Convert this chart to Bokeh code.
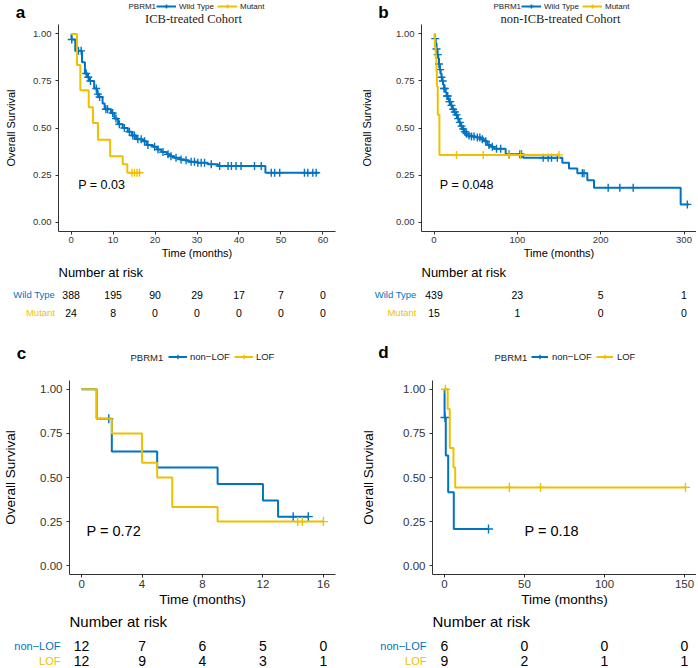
import numpy as np
from bokeh.plotting import figure
from bokeh.layouts import column, row
from bokeh.models import Range1d, Legend, LegendItem, FixedTicker, NumeralTickFormatter
from bokeh.core.properties import value
from bokeh.embed import file_html
from bokeh.resources import INLINE

BLUE = "#0073C2"
YELLOW = "#EFC000"
SANS = "Liberation Sans"
SERIF = "Liberation Serif"

# ---------------- Panel a: ICB-treated cohort ----------------
a_groups = ["Wild Type", "Mutant"]
a_wt_time = [0, 0.1, 1.0, 2.6, 3.3, 4.0, 4.5, 5.5, 6.2, 6.6, 7.5, 8.0, 9.5, 10.3, 11.2, 12.3, 13.5, 14.5,
             15.5, 17.0, 18.0, 19.5, 20.5, 21.5, 22.8, 23.5, 24.5, 26.0, 27.0, 28.0, 30.0, 32.5, 35.0, 46.3, 59.0]
a_wt_surv = [1.0, 0.97, 0.91, 0.85, 0.79, 0.77, 0.75, 0.71, 0.68, 0.665, 0.63, 0.60, 0.58, 0.55, 0.52, 0.50,
             0.48, 0.46, 0.44, 0.43, 0.41, 0.40, 0.386, 0.372, 0.36, 0.35, 0.342, 0.333, 0.328, 0.32, 0.316,
             0.307, 0.298, 0.262, 0.262]
a_wt_censor = [0.16, 1.75, 2.4, 3.6, 4.1, 4.6, 6.0, 6.4, 6.8, 8.3, 8.7, 9.9, 10.7, 11.5, 12.7, 13.9, 14.7,
               15.1, 15.9, 16.7, 17.5, 18.3, 19.9, 20.7, 21.9, 23.1, 23.8, 25.0, 26.2, 27.4, 28.6, 29.4,
               30.2, 31.0, 31.8, 33.4, 35.4, 37.4, 38.2, 39.3, 40.5, 43.7, 45.3, 47.7, 48.5, 49.7, 55.6,
               56.4, 57.6, 58.4]
a_mut_time = [0, 1.4, 2.2, 4.2, 5.2, 6.4, 9.3, 12.3, 13.4, 16.7]
a_mut_surv = [1.0, 0.835, 0.70, 0.61, 0.527, 0.438, 0.35, 0.307, 0.262, 0.262]
a_mut_censor = [14.5, 15.1, 15.7, 16.3]
a_xticks = [0, 10, 20, 30, 40, 50, 60]
a_risk_wt = [388, 195, 90, 29, 17, 7, 0]
a_risk_mut = [24, 8, 0, 0, 0, 0, 0]

# ---------------- Panel b: non-ICB-treated cohort ----------------
b_groups = ["Wild Type", "Mutant"]
b_wt_time = [0, 1, 2, 3, 4, 5, 6, 7, 8, 9, 10, 11, 12, 14, 15, 17, 18, 20, 22, 24, 26, 28, 30, 32, 34, 36,
             38, 40, 44, 50, 56, 60, 64, 68, 72, 86, 107, 154, 162, 172, 184, 192, 296, 306]
b_wt_surv = [1.0, 0.975, 0.95, 0.92, 0.89, 0.87, 0.84, 0.81, 0.79, 0.77, 0.75, 0.73, 0.71, 0.69, 0.67,
             0.655, 0.64, 0.62, 0.60, 0.585, 0.57, 0.55, 0.53, 0.51, 0.495, 0.48, 0.47, 0.46, 0.455, 0.45,
             0.44, 0.43, 0.41, 0.40, 0.39, 0.36, 0.342, 0.315, 0.285, 0.26, 0.222, 0.183, 0.094, 0.094]
b_wt_censor = [1.5, 3, 4.5, 6, 7.5, 9, 10.5, 12, 13, 15.5, 16.5, 18.5, 19.5, 21, 23, 25, 27, 29, 31, 33, 35,
               37, 39, 42, 45, 48, 52, 55, 58, 62, 66, 70, 75, 80, 90, 103, 105, 131, 137, 141, 148, 178,
               180, 209, 223, 239, 304]
b_mut_time = [0, 1, 2, 3, 3.5, 4.5, 6.5, 150]
b_mut_surv = [1.0, 0.93, 0.87, 0.80, 0.72, 0.57, 0.357, 0.357]
b_mut_censor = [27, 59, 90, 104, 150]
b_xticks = [0, 100, 200, 300]
b_risk_wt = [439, 23, 5, 1]
b_risk_mut = [15, 1, 0, 0]

# ---------------- Panel c ----------------
c_groups = ["non\u2212LOF", "LOF"]
c_nl_time = [0, 1, 2, 5, 9, 12, 13, 15]
c_nl_surv = [1.0, 0.833, 0.648, 0.556, 0.463, 0.37, 0.278, 0.278]
c_nl_censor = [1.8, 14, 15]
c_lof_time = [0, 1, 2, 4, 5, 6, 9, 16]
c_lof_surv = [1.0, 0.833, 0.75, 0.583, 0.50, 0.333, 0.25, 0.25]
c_lof_censor = [14.3, 14.6, 16]
c_xticks = [0, 4, 8, 12, 16]
c_risk_nl = [12, 7, 6, 5, 0]
c_risk_lof = [12, 9, 4, 3, 1]

# ---------------- Panel d ----------------
d_groups = ["non\u2212LOF", "LOF"]
d_nl_time = [0, 0.05, 0.8, 2.3, 5.8, 27.5]
d_nl_surv = [1.0, 0.84, 0.625, 0.417, 0.208, 0.208]
d_nl_censor = [0.3, 27.5]
d_lof_time = [0, 2, 3.3, 5.6, 6.7, 151]
d_lof_surv = [1.0, 0.889, 0.667, 0.556, 0.444, 0.444]
d_lof_censor = [0.6, 40.5, 60, 150.6]
d_xticks = [0, 50, 100, 150]
d_risk_nl = [6, 0, 0, 0]
d_risk_lof = [9, 2, 1, 1]

LEGEND_TITLE = "PBRM1"


def surv_at(times, surv, t):
    idx = np.searchsorted(np.asarray(times), np.asarray(t), side="right") - 1
    return list(np.asarray(surv)[idx])


def no_align(fig):
    try:
        fig.frame_align = False
    except Exception:
        pass


def bare(width, height, xr):
    fig = figure(width=width, height=height, x_range=Range1d(*xr), y_range=Range1d(height, 0),
                 x_axis_location=None, y_axis_location=None, min_border=0,
                 min_border_left=0, min_border_right=0, min_border_top=0, min_border_bottom=0,
                 output_backend="svg", toolbar_location=None)
    fig.outline_line_color = None
    fig.border_fill_color = "white"
    fig.grid.visible = False
    no_align(fig)
    return fig


def build(letter, title, groups, curves, xr, xticks, ptext, pxy, risk1, risk2, g, f):
    x0, x1 = xr
    w = g["w"]
    sx = (x1 - x0) / (w - g["left"] - g["right"])
    full = (x0 - g["left"] * sx, x1 + g["right"] * sx)

    def fx(px):  # figure pixel -> data x
        return full[0] + px * sx

    # ---- header (letter, legend, title)
    hh = g["hh"]
    hdr = bare(w, hh, full)
    hdr.text(x=[fx(g["letter"][0])], y=[g["letter"][1]], text=[letter], text_font=value(SANS),
             text_font_style="bold", text_font_size=f["letter"], text_align="center",
             text_baseline="middle", text_color="black")
    if title:
        hdr.text(x=[fx(g["title"][0])], y=[g["title"][1]], text=[title], text_font=value(SERIF),
                 text_font_size=f["title"], text_align="center", text_baseline="middle",
                 text_color="#222222")
    hdr.text(x=[fx(g["ltitle"][0])], y=[g["ltitle"][1]], text=[LEGEND_TITLE], text_font=value(SANS),
             text_font_size=f["leg"], text_align="left", text_baseline="middle", text_color="#222222")
    items = []
    for (t, s, c, col), name in zip(curves, groups):
        ln = hdr.line(x=np.array([np.nan]), y=np.array([np.nan]), line_color=col, line_width=2)
        sc = hdr.scatter(x=np.array([np.nan]), y=np.array([np.nan]), marker="cross", size=8,
                         line_color=col, line_width=1.4)
        items.append(LegendItem(label=name, renderers=[ln, sc]))
    leg = Legend(items=items, orientation="horizontal", location=g["leg"],
                 label_text_font=SANS, label_text_font_size=f["leg"], label_standoff=g["ls"],
                 label_text_color="#222222",
                 glyph_width=g["gw"], glyph_height=g["gh"], label_height=g["gh"], label_width=10,
                 spacing=g["sp"], padding=0, margin=0, border_line_color=None, background_fill_alpha=0)
    hdr.add_layout(leg)

    # ---- KM plot
    h = g["fh"] + g["bot"]
    p = figure(width=w, height=h, x_range=Range1d(x0, x1), y_range=Range1d(-0.05, 1.05),
               output_backend="svg", toolbar_location=None,
               min_border_left=g["left"], min_border_right=g["right"],
               min_border_top=0, min_border_bottom=g["bot"])
    no_align(p)
    p.outline_line_color = None
    p.grid.visible = False
    p.border_fill_color = "white"
    for ax in (p.xaxis[0], p.yaxis[0]):
        ax.axis_line_color = "#333333"
        ax.axis_line_width = 1
        ax.major_tick_line_color = "#333333"
        ax.major_tick_in = 0
        ax.major_tick_out = 3
        ax.minor_tick_line_color = None
        ax.major_label_text_font = SANS
        ax.major_label_text_font_size = f["tick"]
        ax.major_label_text_color = "#333333"
        ax.axis_label_text_font = SANS
        ax.axis_label_text_font_style = "normal"
        ax.axis_label_text_font_size = f["axis"]
        ax.axis_label_text_color = "black"
    p.xaxis.ticker = FixedTicker(ticks=xticks)
    p.yaxis.ticker = FixedTicker(ticks=[0, 0.25, 0.5, 0.75, 1.0])
    p.yaxis.formatter = NumeralTickFormatter(format="0.00")
    p.xaxis.axis_label = "Time (months)"
    p.yaxis.axis_label = "Overall Survival"
    p.xaxis.major_label_standoff = 2
    p.xaxis.axis_label_standoff = 1
    p.yaxis.major_label_standoff = 4
    p.yaxis.axis_label_standoff = g["ylab_so"]

    for t, s, c, col in curves:
        p.step(t, s, mode="after", line_color=col, line_width=2)
        p.scatter(c, surv_at(t, s, c), marker="cross", size=g["cs"], line_color=col, line_width=1.4)

    p.text(x=[pxy[0]], y=[pxy[1]], text=[ptext], text_font=value(SANS), text_font_size=f["p"],
           text_align="left", text_baseline="middle", text_color="black")

    # ---- risk table
    rh = g["rh"]
    rf = bare(w, rh, full)
    rf.text(x=[x0], y=[g["nar_y"]], text=["Number at risk"], text_font=value(SANS),
            text_font_size=f["nar"], text_align="left", text_baseline="middle", text_color="black")
    rf.text(x=[x0 - g["gap"] * sx] * 2, y=[g["r1_y"], g["r2_y"]], text=groups,
            text_color=[BLUE, YELLOW], text_font=value(SANS), text_font_size=f["rowlab"],
            text_align="right", text_baseline="middle")
    for counts, yy in ((risk1, g["r1_y"]), (risk2, g["r2_y"])):
        rf.text(x=xticks, y=[yy] * len(xticks), text=[str(v) for v in counts], text_font=value(SANS),
                text_font_size=f["num"], text_align="center", text_baseline="middle", text_color="black")
    return column(hdr, p, rf, spacing=0)


f_top = dict(tick="9.5px", axis="11px", leg="8px", p="12.5px", letter="17px", title="12.5px",
             nar="13px", rowlab="9.5px", num="10.5px")
f_bot = dict(tick="11.5px", axis="13.5px", leg="9.5px", p="14.5px", letter="17px", title="12.5px",
             nar="15px", rowlab="11px", num="14px")

g_a = dict(w=345, left=58, right=10, hh=24, fh=207, bot=31, ylab_so=13, cs=8,
           leg=(156, 13), gw=20, gh=10, ls=3, sp=3, ltitle=(128, 6),
           letter=(20, 11.5), title=(193, 18), rh=68, nar_y=10, r1_y=32, r2_y=50, gap=3.5)
g_b = dict(w=351, left=76, right=0, hh=24, fh=207, bot=31, ylab_so=20, cs=8,
           leg=(176, 13), gw=20, gh=10, ls=3, sp=3, ltitle=(148, 6),
           letter=(38, 11.5), title=(215, 18), rh=68, nar_y=10, r1_y=32, r2_y=50, gap=5)
g_c = dict(w=345, left=69, right=10, hh=50, fh=194, bot=36, ylab_so=19, cs=9,
           leg=(168, 18), gw=19, gh=11, ls=3, sp=4, ltitle=(130, 26.5),
           letter=(21, 22.5), title=(0, 0), rh=57, nar_y=11, r1_y=35, r2_y=50, gap=9)
g_d = dict(w=351, left=87, right=0, hh=50, fh=194, bot=36, ylab_so=24, cs=9,
           leg=(186, 18), gw=17, gh=11, ls=4, sp=4, ltitle=(149, 26.5),
           letter=(38, 21.5), title=(0, 0), rh=57, nar_y=11, r1_y=35, r2_y=50, gap=6)

pa = build("a", "ICB-treated Cohort", a_groups,
           [(a_wt_time, a_wt_surv, a_wt_censor, BLUE), (a_mut_time, a_mut_surv, a_mut_censor, YELLOW)],
           (-3, 63), a_xticks, "P = 0.03", (1.7, 0.197), a_risk_wt, a_risk_mut, g_a, f_top)
pb = build("b", "non-ICB-treated Cohort", b_groups,
           [(b_wt_time, b_wt_surv, b_wt_censor, BLUE), (b_mut_time, b_mut_surv, b_mut_censor, YELLOW)],
           (-15, 315), b_xticks, "P = 0.048", (7, 0.197), b_risk_wt, b_risk_mut, g_b, f_top)
pc = build("c", None, c_groups,
           [(c_nl_time, c_nl_surv, c_nl_censor, BLUE), (c_lof_time, c_lof_surv, c_lof_censor, YELLOW)],
           (-0.8, 16.8), c_xticks, "P = 0.72", (0.33, 0.198), c_risk_nl, c_risk_lof, g_c, f_bot)
pd_ = build("d", None, d_groups,
            [(d_nl_time, d_nl_surv, d_nl_censor, BLUE), (d_lof_time, d_lof_surv, d_lof_censor, YELLOW)],
            (-7.5, 157.5), d_xticks, "P = 0.18", (50, 0.198), d_risk_nl, d_risk_lof, g_d, f_bot)

layout = column(row(pa, pb, spacing=0), row(pc, pd_, spacing=0), spacing=0)

with open("out.html", "w") as fh:
    fh.write(file_html(layout, INLINE, title="PBRM1 Kaplan-Meier"))
